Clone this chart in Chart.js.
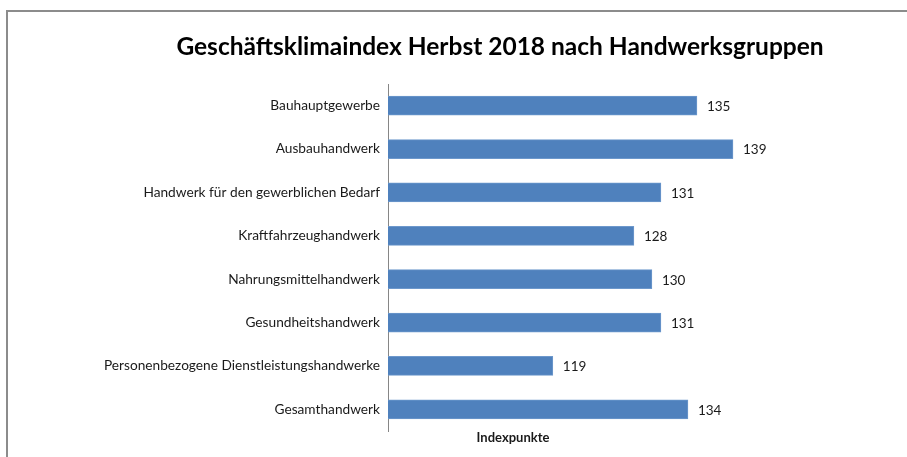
<!DOCTYPE html>
<html>
<head>
<meta charset="utf-8">
<script src="https://cdn.jsdelivr.net/npm/chart.js@4"></script>
<style>
    html, body { margin: 0; padding: 0; background: #fff; }
    #wrap { position: relative; width: 907px; height: 457px; overflow: hidden; }
    #frame {
        position: absolute; left: 6px; top: 10px; width: 920px; height: 470px;
        border: 2px solid #8c8c8c; box-sizing: border-box;
    }
    canvas { position: absolute; left: 0; top: 0; }
</style>
</head>
<body>
<div id="wrap">
    <div id="frame"></div>
    <canvas id="chart" width="907" height="457"></canvas>
</div>
<script>
// Data
const categories = [
    'Bauhauptgewerbe',
    'Ausbauhandwerk',
    'Handwerk für den gewerblichen Bedarf',
    'Kraftfahrzeughandwerk',
    'Nahrungsmittelhandwerk',
    'Gesundheitshandwerk',
    'Personenbezogene Dienstleistungshandwerke',
    'Gesamthandwerk'
];
const indexValues = [135, 139, 131, 128, 130, 131, 119, 134];
const axisMin = 100.7;
const axisMax = 140;

const chartTitle = 'Geschäftsklimaindex Herbst 2018 nach Handwerksgruppen';
const axisTitle = 'Indexpunkte';

const fontFamily = 'Lato, "Open Sans", sans-serif';

// Value labels right of each bar
const valueLabels = {
    id: 'valueLabels',
    afterDatasetsDraw(chart) {
        const ctx = chart.ctx;
        const meta = chart.getDatasetMeta(0);
        ctx.save();
        ctx.font = '13.5px ' + fontFamily;
        ctx.fillStyle = '#1a1a1a';
        ctx.textAlign = 'left';
        ctx.textBaseline = 'middle';
        meta.data.forEach((bar, i) => {
            ctx.fillText(indexValues[i], bar.x + 10, bar.y + 1);
        });
        ctx.restore();
    }
};

// Title and axis caption (Excel places them off the plot centre)
const captions = {
    id: 'captions',
    afterDraw(chart) {
        const ctx = chart.ctx;
        ctx.save();
        ctx.textAlign = 'center';
        ctx.textBaseline = 'middle';
        ctx.fillStyle = '#000';
        ctx.font = 'bold 24.5px ' + fontFamily;
        ctx.fillText(chartTitle, 500, 47);
        ctx.fillStyle = '#1a1a1a';
        ctx.font = 'bold 13px ' + fontFamily;
        ctx.fillText(axisTitle, 513, chart.chartArea.bottom + 7);
        ctx.restore();
    }
};

new Chart(document.getElementById('chart'), {
    type: 'bar',
    data: {
        labels: categories,
        datasets: [{
            data: indexValues,
            backgroundColor: '#4f81bd',
            borderColor: '#6d98cc',
            borderWidth: 1,
            borderSkipped: 'left',
            barThickness: 19
        }]
    },
    options: {
        indexAxis: 'y',
        responsive: false,
        animation: false,
        layout: {
            padding: { left: 0, right: 165, top: 84, bottom: 26 }
        },
        plugins: {
            legend: { display: false },
            tooltip: { enabled: false },
            title: { display: false }
        },
        scales: {
            x: {
                display: false,
                min: axisMin,
                max: axisMax
            },
            y: {
                afterFit(scale) { scale.width = 388; },
                grid: { display: false, drawTicks: false },
                border: { display: true, color: '#868686', width: 1 },
                ticks: {
                    color: '#1a1a1a',
                    padding: 8,
                    font: { family: fontFamily, size: 13.7 }
                }
            }
        }
    },
    plugins: [valueLabels, captions]
});
</script>
</body>
</html>
